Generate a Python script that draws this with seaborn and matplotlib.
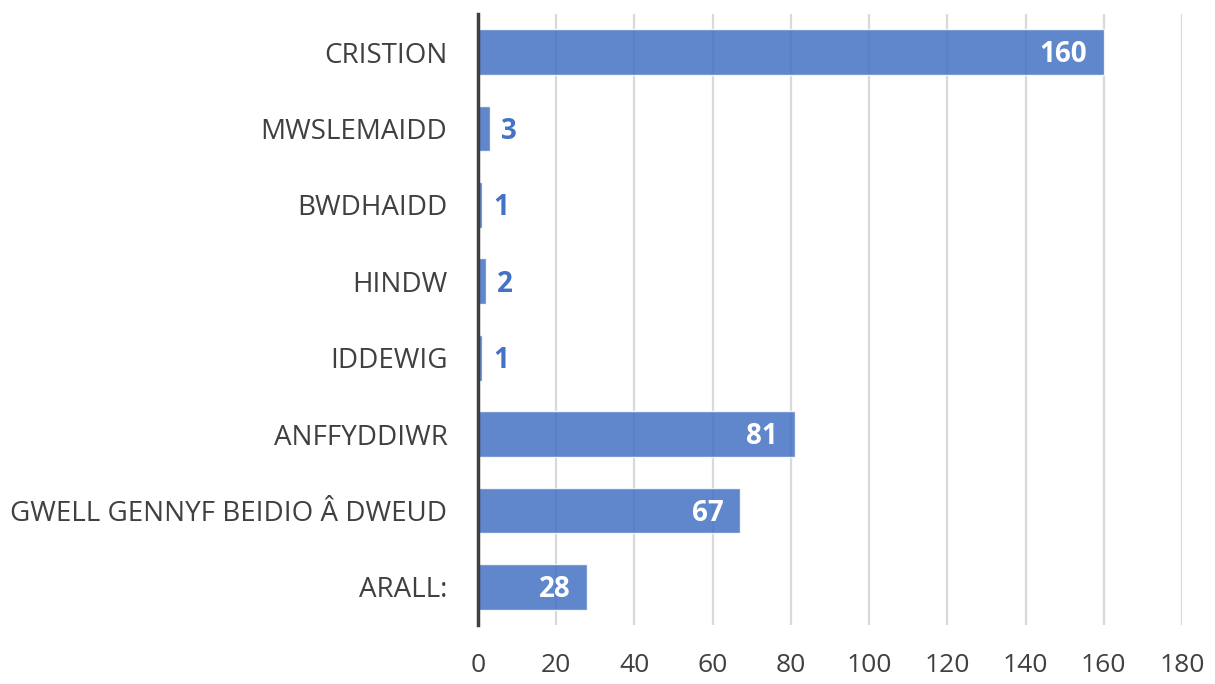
import matplotlib

matplotlib.use("Agg")
import matplotlib.pyplot as plt
import pandas as pd
import seaborn as sns

categories = [
    "CRISTION",
    "MWSLEMAIDD",
    "BWDHAIDD",
    "HINDW",
    "IDDEWIG",
    "ANFFYDDIWR",
    "GWELL GENNYF BEIDIO Â DWEUD",
    "ARALL:",
]
counts = [160, 3, 1, 2, 1, 81, 67, 28]
x_ticks = [0, 20, 40, 60, 80, 100, 120, 140, 160, 180]

BAR_BLUE = "#4472C4"
TEXT_GREY = "#404040"

sns.set_theme(style="white")
plt.rcParams["font.family"] = ["Open Sans", "DejaVu Sans"]

df = pd.DataFrame({"category": categories, "count": counts})

fig = plt.figure(figsize=(12.15, 6.84), dpi=100)
ax = fig.add_axes([0.3934, 0.0863, 0.5794, 0.8932])

sns.barplot(
    data=df,
    x="count",
    y="category",
    orient="h",
    color=BAR_BLUE,
    saturation=1,
    alpha=0.85,
    width=0.6,
    ax=ax,
    zorder=2,
)

ax.set_xlim(0, 180)
ax.set_ylim(len(categories) - 0.5, -0.5)
ax.set_xticks(x_ticks)
ax.set_xticklabels([str(t) for t in x_ticks])
ax.xaxis.grid(True, color="#D9D9D9", linewidth=1.6, zorder=0)
ax.yaxis.grid(False)
ax.set_axisbelow(True)

for side in ["top", "right", "bottom"]:
    ax.spines[side].set_visible(False)
ax.spines["left"].set_color(TEXT_GREY)
ax.spines["left"].set_linewidth(2.5)
ax.spines["left"].set_zorder(3)

ax.tick_params(axis="x", length=0, pad=20, labelsize=19, labelcolor=TEXT_GREY)
ax.tick_params(axis="y", length=0, pad=22, labelsize=20, labelcolor=TEXT_GREY)
ax.set_xlabel("")
ax.set_ylabel("")

for i, v in enumerate(counts):
    if v >= 10:
        ax.annotate(
            str(v), (v, i), xytext=(-12, -2), textcoords="offset points",
            ha="right", va="center", color="white", fontsize=20, fontweight="bold",
        )
    else:
        ax.annotate(
            str(v), (v, i), xytext=(8, -2), textcoords="offset points",
            ha="left", va="center", color=BAR_BLUE, fontsize=20, fontweight="bold",
        )

fig.savefig("out.png", dpi=100)
